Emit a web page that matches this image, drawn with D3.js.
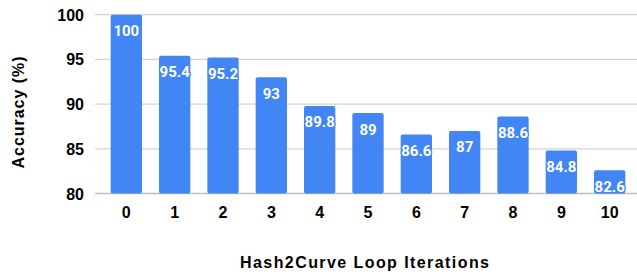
<!DOCTYPE html>
<html>
<head>
<meta charset="utf-8">
<script src="https://cdn.jsdelivr.net/npm/d3@7"></script>
<style>
  body { margin: 0; background: #fff; }
  svg { display: block; }
</style>
</head>
<body>
<svg width="637" height="275"></svg>
<script>
// Chart data
const iterations = ["0", "1", "2", "3", "4", "5", "6", "7", "8", "9", "10"];
const accuracy = [100, 95.4, 95.2, 93, 89.8, 89, 86.6, 87, 88.6, 84.8, 82.6];
const yTicks = [80, 85, 90, 95, 100];

const svg = d3.select('svg');

const x = d3.scaleBand()
    .domain(iterations)
    .range([95, 641])
    .paddingInner(0.352)
    .paddingOuter(0.324);

const y = d3.scaleLinear()
    .domain([80, 100])
    .range([193.5, 14.7]);

// gridlines
svg.append("g")
    .selectAll("line")
    .data(yTicks)
    .enter().append("line")
    .attr("x1", 95)
    .attr("x2", 641)
    .attr("y1", d => y(d))
    .attr("y2", d => y(d))
    .attr("stroke", d => d === 80 ? "#bdbdbd" : "#d4d4d4")
    .attr("stroke-width", 1.3);

// y tick labels
svg.append("g")
    .selectAll("text")
    .data(yTicks)
    .enter().append("text")
    .attr("x", 84)
    .attr("y", d => y(d) + 6)
    .attr("text-anchor", "end")
    .style("font", "bold 16px 'Liberation Sans', Arial, sans-serif")
    .attr("fill", "#000")
    .text(d => d);

// bars
svg.append("g")
    .selectAll("rect")
    .data(accuracy)
    .enter().append("rect")
    .attr("x", (d, i) => x(iterations[i]))
    .attr("y", d => y(d))
    .attr("width", x.bandwidth())
    .attr("height", d => y(80) - y(d))
    .attr("rx", 2)
    .attr("fill", "#4285f4");

// value labels
svg.append("g")
    .selectAll("text")
    .data(accuracy)
    .enter().append("text")
    .attr("x", (d, i) => x(iterations[i]) + x.bandwidth() / 2)
    .attr("y", d => y(d) + 21.5)
    .attr("text-anchor", "middle")
    .style("font", "bold 15px Roboto, sans-serif")
    .style("paint-order", "stroke")
    .attr("stroke", "#4285f4")
    .attr("stroke-width", 2.5)
    .attr("stroke-linejoin", "round")
    .attr("fill", "#fff")
    .text(d => d);

// x tick labels
svg.append("g")
    .selectAll("text")
    .data(iterations)
    .enter().append("text")
    .attr("x", d => x(d) + x.bandwidth() / 2)
    .attr("y", 218)
    .attr("text-anchor", "middle")
    .style("font", "bold 16px 'Liberation Sans', Arial, sans-serif")
    .attr("fill", "#000")
    .text(d => d);

// axis titles
svg.append("text")
    .attr("x", 364.5)
    .attr("y", 267.5)
    .attr("text-anchor", "middle")
    .attr("textLength", 249)
    .attr("lengthAdjust", "spacing")
    .style("font", "bold 16px 'Liberation Sans', Arial, sans-serif")
    .attr("fill", "#000")
    .text("Hash2Curve Loop Iterations");

svg.append("text")
    .attr("transform", "translate(23.5,112.5) rotate(-90)")
    .attr("text-anchor", "middle")
    .attr("textLength", 112)
    .attr("lengthAdjust", "spacing")
    .style("font", "bold 16px 'Liberation Sans', Arial, sans-serif")
    .attr("fill", "#000")
    .text("Accuracy (%)");
</script>
</body>
</html>
